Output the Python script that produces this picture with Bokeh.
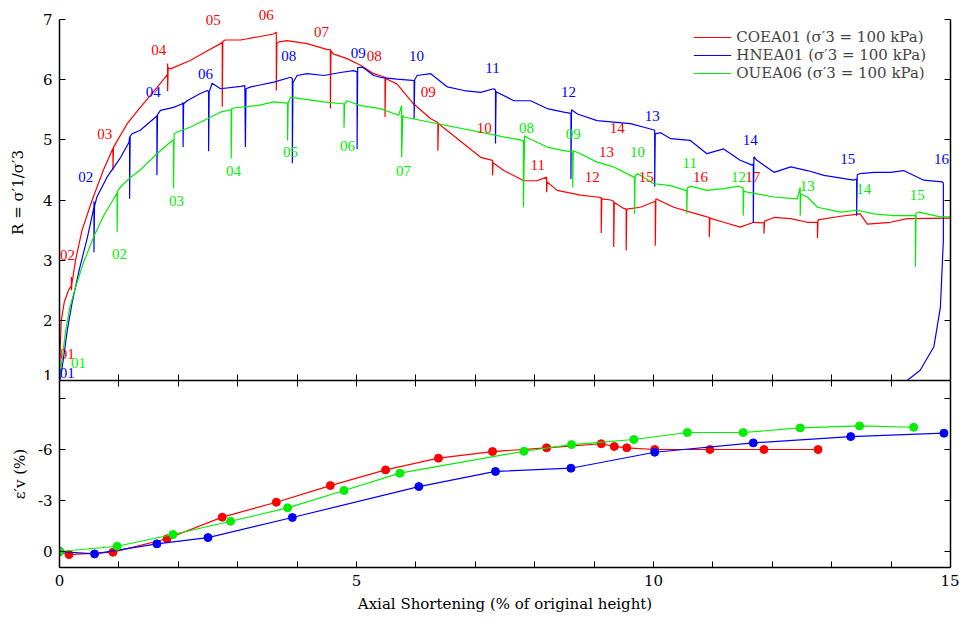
from bokeh.plotting import figure
from bokeh.models import (LinearAxis, FixedTicker, Range1d, ColumnDataSource,
                          LabelSet, Legend, LegendItem)
from bokeh.layouts import column
from bokeh.embed import file_html
from bokeh.resources import INLINE

# ---------------- data : stress ratio curves ----------------
red_x = [0, 0.01, 0.03, 0.08, 0.15, 0.2, 0.2, 0.2, 0.21, 0.27, 0.38, 0.55, 0.74, 0.9, 0.9, 0.91,
         1.14, 1.36, 1.64, 1.82, 1.82, 1.82, 1.83, 1.87, 2.2, 2.49, 2.71, 2.74, 2.74, 2.75, 2.79,
         3.05, 3.33, 3.6, 3.65, 3.65, 3.66, 3.7, 3.83, 4.17, 4.51, 4.56, 4.56, 4.57, 4.61, 4.84,
         5.07, 5.29, 5.48, 5.48, 5.49, 5.68, 5.96, 6.25, 6.37, 6.37, 6.38, 6.53, 6.81, 7.09, 7.29,
         7.29, 7.3, 7.48, 7.82, 8.04, 8.2, 8.2, 8.21, 8.38, 8.77, 9.05, 9.12, 9.12, 9.13, 9.28,
         9.33, 9.33, 9.34, 9.5, 9.54, 9.54, 9.55, 9.78, 10.03, 10.03, 10.04, 10.34, 10.62, 10.9,
         10.94, 10.94, 10.95, 11.18, 11.46, 11.69, 11.86, 11.86, 11.87, 12.03, 12.31, 12.59, 12.76,
         12.76, 12.77, 13.15, 13.48, 13.6, 13.99, 14.27, 15.0]
red_y = [1.0, 1.5, 2.0, 2.3, 2.5, 2.58, 2.72, 2.5, 2.62, 3.0, 3.5, 4.0, 4.5, 4.86, 4.5, 4.88,
         5.27, 5.54, 5.87, 6.09, 6.27, 5.81, 6.2, 6.18, 6.32, 6.48, 6.6, 6.62, 5.55, 6.64, 6.66,
         6.66, 6.71, 6.76, 6.79, 5.82, 6.6, 6.63, 6.65, 6.6, 6.5, 6.5, 5.52, 6.48, 6.43, 6.35,
         6.24, 6.1, 6.04, 5.38, 6.02, 5.93, 5.6, 5.35, 5.29, 4.82, 5.27, 5.15, 4.93, 4.71, 4.66,
         4.41, 4.62, 4.49, 4.32, 4.32, 4.38, 4.13, 4.3, 4.16, 4.08, 4.05, 4.04, 3.45, 4.02, 4.0,
         3.98, 3.22, 3.96, 3.86, 3.85, 3.16, 3.85, 3.88, 3.98, 3.24, 4.02, 3.88, 3.8, 3.72,
         3.71, 3.38, 3.7, 3.63, 3.55, 3.63, 3.62, 3.44, 3.65, 3.71, 3.69, 3.63, 3.63,
         3.37, 3.67, 3.73, 3.77, 3.6, 3.63, 3.69, 3.7]

blue_x = [0, 0.02, 0.07, 0.13, 0.21, 0.33, 0.47, 0.58, 0.58, 0.58, 0.59, 0.63, 0.8, 1.03, 1.17,
          1.18, 1.18, 1.19, 1.22, 1.36, 1.62, 1.64, 1.64, 1.65, 1.7, 1.92, 2.07, 2.08, 2.08, 2.09,
          2.15, 2.37, 2.49, 2.51, 2.51, 2.52, 2.57, 2.71, 3.05, 3.12, 3.13, 3.14, 3.22, 3.61, 3.89,
          3.92, 3.92, 3.93, 4.0, 4.17, 4.45, 4.73, 4.95, 5.01, 5.01, 5.02, 5.1, 5.29, 5.4, 5.68,
          5.94, 5.97, 5.97, 5.98, 6.02, 6.25, 6.53, 6.81, 7.09, 7.31, 7.34, 7.34, 7.35, 7.65, 7.93,
          8.21, 8.49, 8.61, 8.61, 8.62, 8.72, 9.05, 9.61, 9.95, 10.02, 10.02, 10.03, 10.12, 10.29,
          10.62, 10.9, 11.18, 11.46, 11.66, 11.68, 11.68, 11.69, 11.74, 12.03, 12.31, 12.59, 12.87,
          13.37, 13.42, 13.42, 13.43, 13.48, 13.71, 13.99, 14.21, 14.55, 14.86, 14.88, 14.88,
          14.88, 14.83, 14.72, 14.49, 14.27, 14.1]
blue_y = [1.0, 1.06, 1.39, 1.83, 2.28, 2.83, 3.38, 3.88, 3.98, 3.13, 3.9, 4.05, 4.38, 4.71, 4.96,
          5.05, 4.02, 5.06, 5.1, 5.16, 5.38, 5.4, 4.41, 5.42, 5.49, 5.54, 5.6, 5.62, 4.88, 5.6,
          5.65, 5.77, 5.82, 5.8, 4.81, 5.8, 5.94, 5.85, 5.89, 5.9, 4.88, 5.85, 5.88, 5.96, 6.04,
          6.02, 4.61, 5.95, 6.07, 6.1, 6.07, 6.12, 6.15, 6.13, 4.85, 6.2, 6.21, 6.07, 6.04, 6.01,
          5.99, 5.98, 5.35, 6.0, 6.07, 6.1, 5.88, 5.82, 5.79, 5.85, 5.83, 4.94, 5.8, 5.65, 5.65,
          5.52, 5.46, 5.44, 4.35, 5.5, 5.43, 5.32, 5.27, 5.18, 5.16, 4.22, 5.1, 5.12, 5.02,
          4.99, 4.77, 4.85, 4.66, 4.58, 4.6, 3.62, 4.72, 4.66, 4.46, 4.55, 4.49, 4.41,
          4.33, 4.35, 3.74, 4.42, 4.44, 4.46, 4.46, 4.49, 4.33, 4.3, 4.28, 3.44,
          3.33, 2.22, 1.56, 1.17, 1.0, 0.8]

green_x = [0, 0.05, 0.1, 0.17, 0.27, 0.4, 0.58, 0.75, 0.96, 0.97, 0.97, 0.98, 1.03, 1.2, 1.36,
           1.64, 1.9, 1.92, 1.92, 1.93, 1.98, 2.2, 2.49, 2.71, 2.88, 2.89, 2.89, 2.9, 2.93, 3.33,
           3.61, 3.83, 3.84, 3.84, 3.85, 3.89, 4.17, 4.45, 4.76, 4.79, 4.79, 4.8, 4.84, 5.07, 5.4,
           5.71, 5.76, 5.76, 5.78, 5.8, 7.79, 7.81, 7.81, 7.83, 7.87, 8.21, 8.49, 8.63, 8.64, 8.64,
           8.65, 8.77, 9.05, 9.33, 9.61, 9.67, 9.68, 9.68, 9.69, 9.73, 10.01, 10.29, 10.54, 10.56,
           10.56, 10.57, 10.62, 10.9, 11.18, 11.44, 11.51, 11.51, 11.52, 11.58, 12.03, 12.42, 12.47,
           12.47, 12.48, 12.59, 12.76, 13.15, 13.43, 13.71, 14.05, 14.38, 14.41, 14.41, 14.42,
           14.47, 14.83, 15.0]
green_y = [1.03, 1.4, 1.8, 2.2, 2.55, 2.95, 3.4, 3.75, 4.1, 4.12, 3.47, 4.15, 4.22, 4.38, 4.5,
           4.77, 4.99, 5.0, 4.19, 5.1, 5.13, 5.21, 5.35, 5.46, 5.5, 5.5, 4.69, 5.52, 5.53, 5.57,
           5.63, 5.61, 5.6, 4.99, 5.62, 5.71, 5.67, 5.63, 5.6, 5.6, 5.2, 5.6, 5.65, 5.57, 5.52,
           5.41, 5.57, 4.71, 5.4, 5.38, 4.99, 4.99, 3.88, 5.07, 5.04, 4.88, 4.82, 4.8, 4.8, 4.21,
           4.82, 4.77, 4.63, 4.55, 4.41, 4.38, 4.38, 3.77, 4.4, 4.44, 4.27, 4.24, 4.16, 4.16,
           3.77, 4.2, 4.23, 4.16, 4.19, 4.23, 4.2, 3.74, 4.15, 4.13, 4.05, 4.02, 4.21,
           3.74, 4.1, 4.05, 3.88, 3.8, 3.83, 3.77, 3.74, 3.74, 3.74, 2.89, 3.78,
           3.8, 3.72, 3.72]

# ---------------- data : cycle labels ----------------
red_lab_x = [0.13, 0.135, 0.76, 1.67, 2.59, 3.48, 4.41, 5.30, 6.21, 7.15, 8.05, 8.97, 9.21, 9.39, 9.88, 10.79, 11.67]
red_lab_y = [1.44, 3.08, 5.09, 6.49, 7.00, 7.08, 6.80, 6.39, 5.80, 5.19, 4.59, 4.39, 4.79, 5.19, 4.39, 4.38, 4.39]
red_lab_t = ["01", "02", "03", "04", "05", "06", "07", "08", "09", "10", "11", "12", "13", "14", "15", "16", "17"]

blue_lab_x = [0.13, 0.44, 1.58, 2.46, 3.86, 5.03, 6.01, 7.29, 8.57, 9.98, 11.63, 13.27, 14.85]
blue_lab_y = [1.13, 4.39, 5.80, 6.09, 6.39, 6.45, 6.39, 6.20, 5.80, 5.39, 4.99, 4.69, 4.69]
blue_lab_t = ["01", "02", "04", "06", "08", "09", "10", "11", "12", "13", "14", "15", "16"]

green_lab_x = [0.32, 1.01, 1.97, 2.93, 3.89, 4.85, 5.79, 7.86, 8.65, 9.73, 10.61, 11.43, 12.59, 13.54, 14.44]
green_lab_y = [1.29, 3.10, 3.99, 4.49, 4.79, 4.89, 4.49, 5.19, 5.09, 4.79, 4.61, 4.39, 4.24, 4.19, 4.09]
green_lab_t = ["01", "02", "03", "04", "05", "06", "07", "08", "09", "10", "11", "12", "13", "14", "15"]

# ---------------- data : volumetric strain ----------------
ev_red_x = [0, 0.16, 0.9, 1.81, 2.74, 3.65, 4.56, 5.49, 6.38, 7.29, 8.2, 9.12, 9.34, 9.55, 10.02, 10.95, 11.86, 12.77]
ev_red_y = [0, 0.18, 0.04, -0.75, -2.02, -2.9, -3.88, -4.8, -5.49, -5.88, -6.1, -6.34, -6.18, -6.1, -6.0, -6.0, -6.0, -6.0]
ev_blue_x = [0, 0.59, 1.64, 2.5, 3.92, 6.05, 7.34, 8.61, 10.02, 11.68, 13.32, 14.89]
ev_blue_y = [0, 0.14, -0.45, -0.82, -2.0, -3.82, -4.71, -4.9, -5.84, -6.39, -6.76, -6.96]
ev_green_x = [0, 0.97, 1.91, 2.88, 3.84, 4.79, 5.73, 7.82, 8.62, 9.67, 10.57, 11.51, 12.47, 13.47, 14.38]
ev_green_y = [0, -0.31, -1.0, -1.78, -2.57, -3.59, -4.61, -5.9, -6.29, -6.59, -7.0, -7.0, -7.27, -7.39, -7.31]

series_names = ["COEA01 (σ′3 = 100 kPa)", "HNEA01 (σ′3 = 100 kPa)", "OUEA06 (σ′3 = 100 kPa)"]
x_ticks = list(range(0, 16))
x_labels = {t: (str(t) if t % 5 == 0 else "") for t in x_ticks}
top_y_ticks = [1, 2, 3, 4, 5, 6, 7]
bot_y_ticks = [0, -3, -6, -9]
bot_y_labels = {0: "0", -3: "-3", -6: "-6", -9: ""}

# ---------------- styling ----------------
FONT = "DejaVu Serif"
FS = "15px"
RED, BLUE, GREEN = "#ff0000", "#0000ff", "#00ee00"


def style_axis(ax, ticks, labels=True):
    ax.axis_line_color = "black"
    ax.axis_line_width = 1.5
    ax.major_tick_line_color = "black"
    ax.major_tick_line_width = 1
    ax.major_tick_in = 6
    ax.major_tick_out = 0
    ax.minor_tick_line_color = None
    ax.major_label_text_font = FONT
    ax.major_label_text_color = "black"
    if labels:
        ax.major_label_text_font_size = FS
        ax.major_label_standoff = 7
    else:
        ax.major_label_text_font_size = "1px"
        ax.major_label_standoff = 0
        ax.major_label_overrides = {t: "" for t in ticks}
    ax.axis_label_text_font = FONT
    ax.axis_label_text_font_size = FS
    ax.axis_label_text_font_style = "normal"
    ax.axis_label_text_color = "black"


# ---------------- top panel ----------------
p1 = figure(frame_width=891, frame_height=376, x_range=Range1d(0, 15), y_range=Range1d(1, 7.25),
            output_backend="svg", toolbar_location=None,
            x_axis_location=None, y_axis_location=None,
            min_border_left=59, min_border_right=9, min_border_top=4, min_border_bottom=0,
            outline_line_color=None)
p1.grid.visible = False

ly = LinearAxis(ticker=FixedTicker(ticks=top_y_ticks), axis_label="R = σ′1/σ′3", bounds=(1, 7))
style_axis(ly, top_y_ticks)
ly.axis_label_standoff = 13
p1.add_layout(ly, "left")
ry = LinearAxis(ticker=FixedTicker(ticks=top_y_ticks), bounds=(1, 7))
style_axis(ry, top_y_ticks, labels=False)
p1.add_layout(ry, "right")
bx1 = LinearAxis(ticker=FixedTicker(ticks=x_ticks))
style_axis(bx1, x_ticks, labels=False)
p1.add_layout(bx1, "below")

r_red = p1.line(red_x, red_y, line_color=RED, line_width=1.2)
r_blue = p1.line(blue_x, blue_y, line_color=BLUE, line_width=1.2)
r_green = p1.line(green_x, green_y, line_color=GREEN, line_width=1.2)

for lx, lyv, lt, col in [(red_lab_x, red_lab_y, red_lab_t, RED),
                         (blue_lab_x, blue_lab_y, blue_lab_t, BLUE),
                         (green_lab_x, green_lab_y, green_lab_t, GREEN)]:
    src = ColumnDataSource(dict(x=lx, y=lyv, t=lt))
    p1.add_layout(LabelSet(x="x", y="y", text="t", source=src, text_color=col,
                           text_font=FONT, text_font_size=FS, text_align="center",
                           text_baseline="middle"))

legend = Legend(items=[LegendItem(label=series_names[0], renderers=[r_red]),
                       LegendItem(label=series_names[1], renderers=[r_blue]),
                       LegendItem(label=series_names[2], renderers=[r_green])],
                location="top_right", margin=20, padding=4, spacing=-3,
                glyph_width=38, glyph_height=16, label_height=16,
                label_text_font=FONT, label_text_font_size=FS,
                background_fill_alpha=0, border_line_alpha=0)
p1.add_layout(legend)

# ---------------- bottom panel ----------------
p2 = figure(frame_width=891, frame_height=187, x_range=Range1d(0, 15), y_range=Range1d(0.94, -10.06),
            output_backend="svg", toolbar_location=None,
            x_axis_location=None, y_axis_location=None,
            min_border_left=59, min_border_right=9, min_border_top=0, min_border_bottom=50,
            outline_line_color=None)
p2.grid.visible = False

ly2 = LinearAxis(ticker=FixedTicker(ticks=bot_y_ticks), axis_label="ε′v (%)",
                 major_label_overrides=bot_y_labels)
style_axis(ly2, bot_y_ticks)
ly2.axis_label_standoff = 6
p2.add_layout(ly2, "left")
ry2 = LinearAxis(ticker=FixedTicker(ticks=bot_y_ticks))
style_axis(ry2, bot_y_ticks, labels=False)
p2.add_layout(ry2, "right")
bx2 = LinearAxis(ticker=FixedTicker(ticks=x_ticks), major_label_overrides=x_labels,
                 axis_label="Axial Shortening (% of original height)")
style_axis(bx2, x_ticks)
bx2.axis_label_standoff = 6
p2.add_layout(bx2, "below")
tx2 = LinearAxis(ticker=FixedTicker(ticks=x_ticks))
style_axis(tx2, x_ticks, labels=False)
p2.add_layout(tx2, "above")

for xs, ys, col in [(ev_red_x, ev_red_y, RED), (ev_blue_x, ev_blue_y, BLUE),
                    (ev_green_x, ev_green_y, GREEN)]:
    p2.line(xs, ys, line_color=col, line_width=1.2)
    p2.scatter(xs, ys, size=8, fill_color=col, line_color=col)

layout = column(p1, p2, spacing=0)
open("out.html", "w").write(file_html(layout, INLINE))
